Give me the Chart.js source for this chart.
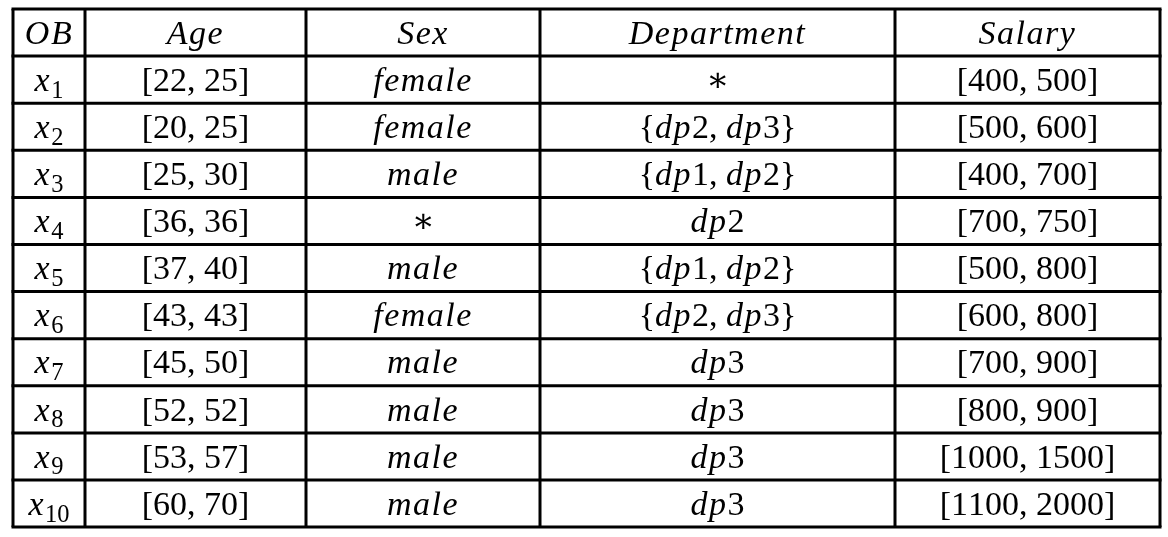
<!DOCTYPE html>
<html><head><meta charset="utf-8">
<script src="https://cdn.jsdelivr.net/npm/chart.js@4"></script>
<style>html,body{margin:0;padding:0;background:#fff}#wrap{width:1168px;height:537px}</style>
</head><body><div id="wrap"><canvas id="c"></canvas></div>
<script>
const headers = ["OB","Age","Sex","Department","Salary"];
const obs = ["x_1","x_2","x_3","x_4","x_5","x_6","x_7","x_8","x_9","x_10"];
const ages = ["[22, 25]","[20, 25]","[25, 30]","[36, 36]","[37, 40]","[43, 43]","[45, 50]","[52, 52]","[53, 57]","[60, 70]"];
const sexes = ["female","female","male","∗","male","female","male","male","male","male"];
const depts = ["∗","{dp2, dp3}","{dp1, dp2}","dp2","{dp1, dp2}","{dp2, dp3}","dp3","dp3","dp3","dp3"];
const salaries = ["[400, 500]","[500, 600]","[400, 700]","[700, 750]","[500, 800]","[600, 800]","[700, 900]","[800, 900]","[1000, 1500]","[1100, 2000]"];
const colEdges = [13, 85, 306, 540, 895, 1160];
const rowTop = 9, rowH = 47.1, nRows = 11;

function runs(str){
  const out=[]; let i=0;
  while(i<str.length){
    const ch=str[i];
    if(ch==='_'){ let j=i+1, s=''; while(j<str.length && /[0-9]/.test(str[j])){s+=str[j];j++;} out.push({t:s,it:false,sub:true}); i=j; continue; }
    out.push({t:ch,it:/[A-Za-z]/.test(ch),sub:false}); i++;
  }
  return out;
}
function fontFor(r,size){ const s = r.sub? size*0.72 : size; return (r.it?'italic ':'')+s+'px "Liberation Serif", "DejaVu Serif", serif'; }
function drawMath(ctx,str,cx,cy,size){
  const rs=runs(str); let w=0;
  rs.forEach(r=>{ctx.font=fontFor(r,size); r.w=ctx.measureText(r.t).width + (r.it?1.5:0); w+=r.w;});
  let x=cx-w/2;
  ctx.textBaseline='alphabetic'; ctx.textAlign='left'; ctx.fillStyle='#000';
  rs.forEach(r=>{ctx.font=fontFor(r,size); ctx.fillText(r.t,x, cy + size*0.33 + (r.sub?size*0.2:0)); x+=r.w;});
}
const tablePlugin = {
  id:'table',
  afterDraw(chart){
    const ctx=chart.ctx, xs=chart.scales.x, ys=chart.scales.y;
    const X=v=>xs.getPixelForValue(v), Y=v=>ys.getPixelForValue(v);
    ctx.save();
    ctx.fillStyle='#fff'; ctx.fillRect(0,0,chart.width,chart.height);
    ctx.strokeStyle='#000'; ctx.lineWidth=3;
    for(let r=0;r<=nRows;r++){ const y=Y(rowTop+r*rowH); ctx.beginPath(); ctx.moveTo(X(colEdges[0])-1.5,y); ctx.lineTo(X(colEdges[5])+1.5,y); ctx.stroke(); }
    colEdges.forEach(c=>{ ctx.beginPath(); ctx.moveTo(X(c),Y(rowTop)); ctx.lineTo(X(c),Y(rowTop+nRows*rowH)); ctx.stroke(); });
    const cols=[obs,ages,sexes,depts,salaries];
    for(let c=0;c<5;c++){
      const cx=X((colEdges[c]+colEdges[c+1])/2);
      drawMath(ctx,headers[c],cx,Y(rowTop+rowH/2),34);
      cols[c].forEach((v,i)=>drawMath(ctx,v,cx,Y(rowTop+(i+1.5)*rowH),34));
    }
    ctx.restore();
  }
};
new Chart(document.getElementById('c'),{
  type:'scatter',
  data:{datasets:[{data:[]}]},
  options:{responsive:true,maintainAspectRatio:false,animation:false,
    layout:{padding:0},
    plugins:{legend:{display:false},tooltip:{enabled:false}},
    scales:{x:{type:'linear',min:0,max:1168,display:false},y:{type:'linear',min:0,max:537,reverse:true,display:false}}},
  plugins:[tablePlugin]
});
</script></body></html>
